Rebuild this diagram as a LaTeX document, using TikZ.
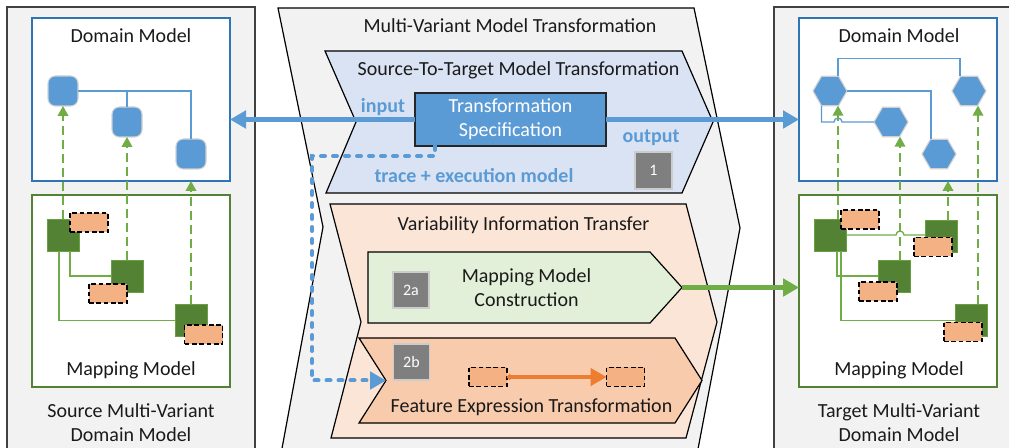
\documentclass[tikz,border=0pt]{standalone}
\usepackage{fontspec}
\setmainfont{Carlito}
\usetikzlibrary{arrows.meta,shapes.geometric,calc}

\definecolor{panelgray}{HTML}{F2F2F2}
\definecolor{paneledge}{HTML}{404040}
\definecolor{accblue}{HTML}{5B9BD5}
\definecolor{darkblue}{HTML}{2E75B6}
\definecolor{accgreen}{HTML}{70AD47}
\definecolor{darkgreen}{HTML}{548235}
\definecolor{chevblue}{HTML}{DAE3F3}
\definecolor{chevorange}{HTML}{FBE5D6}
\definecolor{chevpeach}{HTML}{F8CBAD}
\definecolor{chevgreen}{HTML}{E2F0D9}
\definecolor{featfill}{HTML}{F4B183}
\definecolor{accorange}{HTML}{ED7D31}
\definecolor{stepgray}{HTML}{7F7F7F}
\definecolor{txt}{HTML}{1A1A1A}

\begin{document}
\begin{tikzpicture}[x=0.75pt,y=-0.75pt,
  every node/.style={inner sep=0pt,outer sep=0pt,text=txt,font=\fontsize{15}{18}\selectfont},
  lbl/.style={anchor=base,align=center},
  bluelbl/.style={anchor=base,text=accblue,font=\fontsize{15}{18}\selectfont\bfseries},
  panel/.style={fill=panelgray,draw=paneledge,line width=0.8pt},
  chevron/.style={draw=black,line width=0.9pt,line join=miter},
  dombox/.style={draw=darkblue,line width=2pt,fill=white,minimum width=148.5pt,minimum height=122.25pt},
  mapbox/.style={draw=darkgreen,line width=2pt,fill=white,minimum width=148.5pt,minimum height=144pt},
  delem/.style={fill=accblue,draw=black!18,line width=0.8pt,rounded corners=5.5pt,minimum size=22.5pt},
  hexelem/.style={regular polygon,regular polygon sides=6,fill=accblue,draw=black!18,line width=0.8pt,minimum size=25.5pt},
  melem/.style={fill=darkgreen,draw=accgreen!70!darkgreen,line width=0.6pt,minimum size=24pt},
  fexpr/.style={fill=featfill,draw=black,line width=0.9pt,dash pattern=on 3.5pt off 2pt,minimum width=28.5pt,minimum height=14.25pt},
  stepbox/.style={fill=stepgray,draw=black!20,line width=1pt,minimum size=27pt,text=white,font=\fontsize{12}{14}\selectfont},
  bline/.style={draw=accblue,line width=1pt},
  gline/.style={draw=accgreen,line width=1pt},
  traceto/.style={draw=accgreen,line width=1.3pt,dash pattern=on 7pt off 3.5pt,-{Triangle[length=7.5pt,width=8pt]}},
  flow/.style={line width=3.2pt,-{Triangle[length=12pt,width=13pt]}},
]
\useasboundingbox (0,0) rectangle (1009,448);
\clip (0,0) rectangle (1009,448);

% side panels
\draw[panel] (7,7) rectangle (255,470);
\draw[panel] (774,7) rectangle (1030,470);

% central chevron: multi-variant model transformation
\draw[chevron,fill=panelgray] (278,8) -- (694,8) -- (740,228) -- (694,470) -- (278,470) -- (323,227) -- cycle;
\node[lbl] (mvmt) at (510,33) {Multi-Variant Model Transformation};

% step 1 chevron
\draw[chevron,fill=chevblue] (325,51) -- (682,51) -- (713,122) -- (682,193) -- (326,193) -- (356,122) -- cycle;
\node[lbl] (s2t) at (518.5,76) {Source-To-Target Model Transformation};
\node[fill=accblue,draw=black!85,line width=1.3pt,minimum width=143.25pt,minimum height=39.75pt,
      text=white,align=center] (spec) at (510.5,119.5) {Transformation\\Specification};
\node[bluelbl] (inlbl) at (383,113) {input};
\node[bluelbl] (outlbl) at (651,143) {output};
\node[bluelbl] (trlbl) at (474,183) {trace + execution model};
\node[stepbox,minimum size=27.75pt] (s1) at (653.5,170.5) {1};

% step 2 chevron
\draw[chevron,fill=chevorange] (330,204) -- (686,204) -- (717,322) -- (686,438) -- (331,438) -- (361,322) -- cycle;
\node[lbl] (vit) at (523.5,231) {Variability Information Transfer};
\draw[chevron,fill=chevgreen] (368,252) -- (650,252) -- (682,287.5) coordinate (mmcTip) -- (650,323) -- (368,323) -- cycle;
\node[lbl] (mmc) at (526.5,307) {Mapping Model\\Construction};
\node[stepbox] (s2a) at (411,290) {2a};
\draw[chevron,fill=chevpeach] (359,338) -- (675,338) -- (702,380.5) -- (675,423) -- (359,423) -- (386,380.5) coordinate (fetNotch) -- cycle;
\node[stepbox] (s2b) at (411.5,362) {2b};
\node[fexpr] (fa) at (488,377) {};
\node[fexpr] (fb) at (625.5,377) {};
\node[lbl] (fet) at (531.5,412) {Feature Expression Transformation};
\draw[accorange,line width=2.8pt,{Circle[length=4pt]}-{Triangle[length=12pt,width=13pt]}] (fa.east) -- (fb.west);

% source multi-variant domain model
\node[dombox] (domL) at (131,99.5) {};
\node[lbl] (domLt) at (131,43) {Domain Model};
\node[mapbox] (mapL) at (131,291) {};
\node[lbl] (mapLt) at (131,376) {Mapping Model};
\node[lbl] (srcLt) at (131,441) {Source Multi-Variant\\Domain Model};

\node[delem] (A) at (63,91) {};
\node[delem] (B) at (127,122) {};
\node[delem] (C) at (191,154) {};
\draw[bline] (B.north) -- (B.north |- A.east);
\draw[bline] (A.east) -| (C.north);

\node[melem] (G1) at (63,235) {};
\node[melem] (G2) at (127,276) {};
\node[melem] (G3) at (191,320.5) {};
\draw[gline] ([xshift=5.25pt]G1.south) |- (G2.west);
\draw[gline] ([xshift=-3pt]G1.south) |- (G3.west);
\node[fexpr] (O1) at (89,222.5) {};
\node[fexpr] (O2) at (108,293.5) {};
\node[fexpr] (O3) at (203.5,334.5) {};

\draw[traceto] (G1.north) -- (A.south);
\draw[traceto] (G2.north) -- (B.south);
\draw[traceto] (G3.north) -- (G3.north |- domL.south);

% target multi-variant domain model
\node[dombox] (domR) at (898,99.5) {};
\node[lbl] (domRt) at (899,43) {Domain Model};
\node[mapbox] (mapR) at (898,291) {};
\node[lbl] (mapRt) at (899,376) {Mapping Model};
\node[lbl] (tgtRt) at (899,441) {Target Multi-Variant\\Domain Model};

\node[hexelem] (H1) at (830,91) {};
\node[hexelem] (H2) at (891,122) {};
\node[hexelem] (H3) at (939,154) {};
\node[hexelem] (H4) at (969,91) {};
\coordinate (hopA) at (838,122);
\draw[bline] ([xshift=6pt]H1.north) -- ++(0,-18) -| ([xshift=-6.75pt]H4.north);
\draw[bline] (H1.east) -| ([xshift=-6pt]H3.north);
\draw[bline] ([xshift=-6.375pt]H1.south) |- ($(hopA)+(-4,0)$) arc[start angle=180,end angle=360,radius=4] -- (H2.west);

\node[melem] (R1) at (830,235) {};
\node[melem] (R2) at (894,276) {};
\node[melem] (R3) at (941,236) {};
\node[melem] (R4) at (971.5,320.5) {};
\coordinate (hopB) at (900,235);
\draw[gline] (R1.east) -- ($(hopB)+(-4,0)$) arc[start angle=180,end angle=360,radius=4] -- (R1.east -| R3.west);
\draw[gline] ([xshift=5.25pt]R1.south) |- (R2.west);
\draw[gline] ([xshift=8.25pt]R1.south) |- (R4.west);
\node[fexpr] (Q1) at (860,219.5) {};
\node[fexpr] (Q2) at (933,247) {};
\node[fexpr] (Q3) at (878,291.5) {};
\node[fexpr] (Q4) at (963,332) {};

\draw[traceto] ([xshift=6pt]R1.north) -- ([xshift=6pt]R1.north |- H1.south);
\draw[traceto] ([xshift=4.5pt]R2.north) -- ([xshift=4.5pt]R2.north |- H2.south);
\draw[traceto] ([xshift=5.25pt]R3.north) -- ([xshift=5.25pt]R3.north |- domR.south);
\draw[traceto] ([xshift=4.875pt]R4.north) -- ([xshift=4.875pt]R4.north |- H4.south);

% transformation data flow
\draw[flow,accblue] (spec.west) -- (spec.west -| domL.east);
\draw[flow,accblue] (spec.east) -- (spec.east -| domR.west);
\draw[flow,accgreen] (mmcTip) -- (mmcTip -| mapR.west);
\draw[accblue,line width=3pt,line cap=round,dash pattern=on 3pt off 6pt,-{Triangle[length=12pt,width=13pt]}]
  ([xshift=-56.625pt]spec.south) -- ++(0,10) -- ++(-123,0) |- (fetNotch);
\end{tikzpicture}
\end{document}
